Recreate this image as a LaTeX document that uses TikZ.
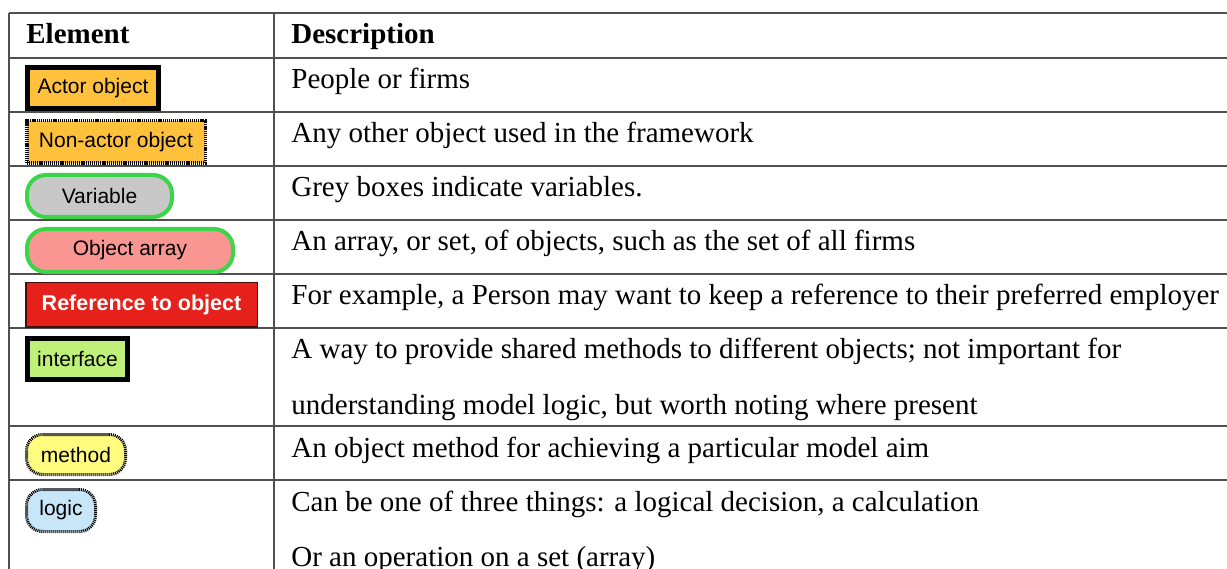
\documentclass[tikz,border=0pt]{standalone}
\usepackage{fontspec}
\setmainfont{Liberation Serif}
\newfontfamily\boxfont{Liberation Sans}
\usepackage{xcolor}
\definecolor{objorange}{RGB}{255,193,59}
\definecolor{vargreen}{RGB}{60,212,72}
\definecolor{vargrey}{RGB}{200,200,200}
\definecolor{arraypink}{RGB}{250,150,145}
\definecolor{refred}{RGB}{230,33,27}
\definecolor{refborder}{RGB}{70,15,15}
\definecolor{ifacegreen}{RGB}{190,240,122}
\definecolor{methodyellow}{RGB}{255,252,128}
\definecolor{logicblue}{RGB}{200,230,250}
\definecolor{rulegrey}{RGB}{80,80,80}

\begin{document}
\begin{tikzpicture}[
    x=1pt,
    y=-1pt,
    thick
]


\tikzstyle{elem}=[
    draw,
    inner sep=0pt,
    align=center,
    font=\boxfont\fontsize{21}{25}\selectfont
]
\tikzstyle{actorbox}=[elem, fill=objorange, line width=5pt, minimum width=131pt, minimum height=41pt]
\tikzstyle{nonactorbox}=[elem, fill=objorange, line width=3.5pt, dash pattern=on 1.2pt off 0.9pt, minimum width=178.5pt, minimum height=42.5pt]
\tikzstyle{varbox}=[elem, fill=vargrey, draw=vargreen, line width=4pt, rounded corners=19pt, minimum width=145pt, minimum height=42pt]
\tikzstyle{arraybox}=[elem, fill=arraypink, draw=vargreen, line width=4pt, rounded corners=19pt, minimum width=206pt, minimum height=43pt]
\tikzstyle{refbox}=[elem, fill=refred, draw=refborder, line width=1.5pt, text=white, minimum width=231.5pt, minimum height=44.5pt, font=\boxfont\bfseries\fontsize{21.5}{25}\selectfont]
\tikzstyle{ifacebox}=[elem, fill=ifacegreen, line width=5pt, minimum width=100pt, minimum height=41pt]
\tikzstyle{methodbox}=[elem, fill=methodyellow, line width=3pt, dash pattern=on 1.1pt off 0.9pt, rounded corners=16pt, minimum width=99pt, minimum height=40pt]
\tikzstyle{logicbox}=[elem, fill=logicblue, line width=3pt, dash pattern=on 1.1pt off 0.9pt, rounded corners=16pt, minimum width=69pt, minimum height=42pt]
\tikzstyle{desc}=[
    anchor=base west,
    inner sep=0pt,
    font=\fontsize{29}{35}\selectfont
]
\tikzstyle{head}=[desc, font=\bfseries\fontsize{29}{35}\selectfont]
\tikzstyle{tablerule}=[draw=rulegrey, line width=1.6pt]

\useasboundingbox (0,0) rectangle (1227,569);


% table rules
\foreach \y in {13,58,112,166,220,274,328,426,480}
    \draw[tablerule] (9,\y) -- (1227,\y);
\draw[tablerule] (9,13) -- (9,569);
\draw[tablerule] (274,13) -- (274,569);


\node[head] (helem) at (26,44) {Element};
\node[head] (hdesc) at (291,44) {Description};


\node[actorbox] (actor) at (93,88) {Actor object};
\node[desc] (dactor) at (291,89) {People or firms};

\node[nonactorbox] (nonactor) at (116,142) {Non-actor object};
\node[desc] (dnonactor) at (291,143) {Any other object used in the framework};

\node[varbox] (var) at (99.5,196) {Variable};
\node[desc] (dvar) at (291,197) {Grey boxes indicate variables.};

\node[arraybox] (arr) at (130,250.5) {Object array};
\node[desc] (darr) at (291,251) {An array, or set, of objects, such as the set of all firms};

\node[refbox] (ref) at (141.5,305) {Reference to object};
\node[desc] (dref) at (291,305) {For example, a Person may want to keep a reference to their preferred employer};

\node[ifacebox] (iface) at (77.5,359) {interface};
\node[desc] (diface) at (291,359) {A way to provide shared methods to different objects; not important for};
\node[desc] (diface2) at (291,414) {understanding model logic, but worth noting where present};

\node[methodbox] (meth) at (76,454.5) {method};
\node[desc] (dmeth) at (291,457) {An object method for achieving a particular model aim};

\node[logicbox] (logic) at (61,510.5) {logic};
\node[desc] (dlogic) at (291,511) {Can be one of three things: a logical decision, a calculation};
\node[desc] (dlogic2) at (291,566) {Or an operation on a set (array)};

\end{tikzpicture}
\end{document}
